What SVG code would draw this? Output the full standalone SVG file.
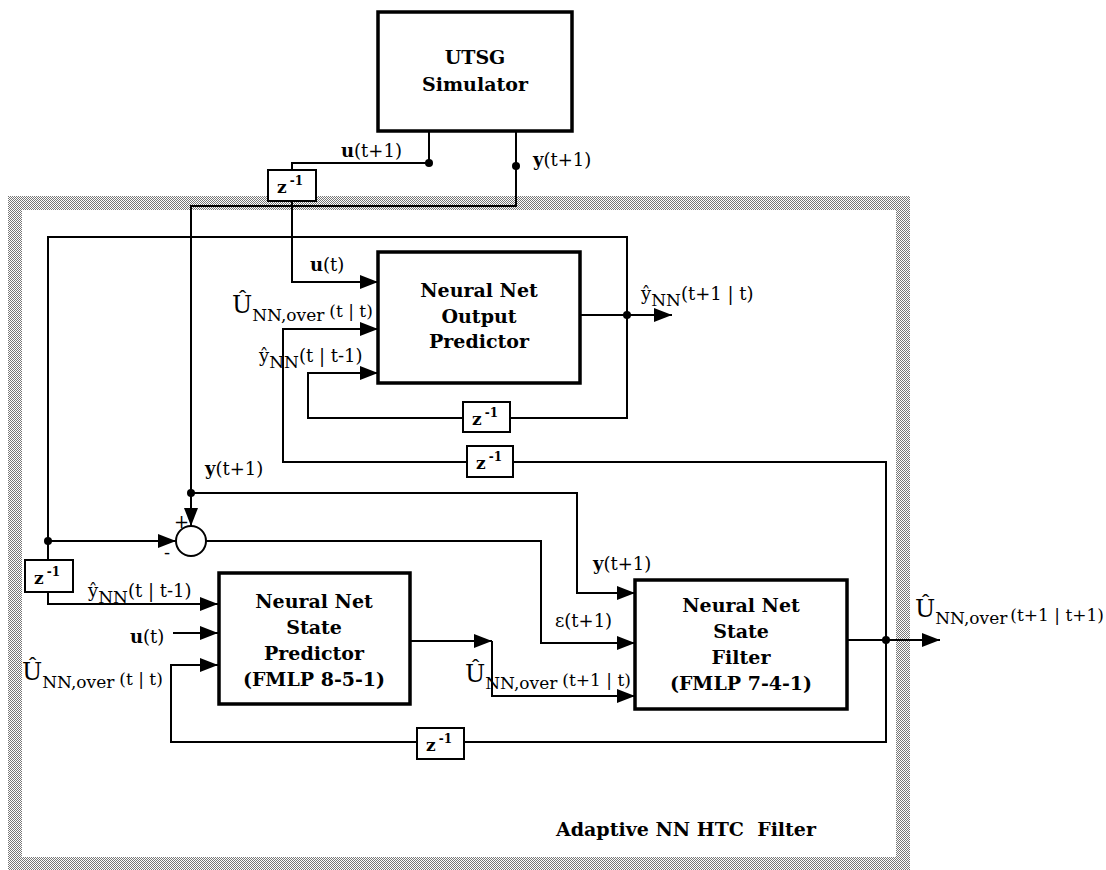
<svg xmlns="http://www.w3.org/2000/svg" width="1106" height="870" viewBox="0 0 1106 870">
<defs>
<pattern id="hatch" width="2" height="2" patternUnits="userSpaceOnUse">
<rect width="2" height="2" fill="#ffffff"/>
<rect width="1" height="1" fill="#777777"/>
<rect x="1" y="1" width="1" height="1" fill="#777777"/>
</pattern>
<marker id="arr" markerUnits="userSpaceOnUse" markerWidth="18" markerHeight="14" refX="18" refY="7" orient="auto">
<path d="M0,0 L18,7 L0,14 Z" fill="#000"/>
</marker>
</defs>
<style>
.box{fill:#fff;stroke:#000;stroke-width:3.5}
.zb{fill:#fff;stroke:#000;stroke-width:2}
.w{fill:none;stroke:#000;stroke-width:2}
.a{marker-end:url(#arr)}
.dot{fill:#000}
.bt{font-family:"DejaVu Serif","Liberation Serif",serif;font-weight:bold;font-size:19px;text-anchor:middle;fill:#000}
.zt{font-family:"DejaVu Serif","Liberation Serif",serif;font-weight:bold;font-size:17px;fill:#000}
.lb{font-family:"DejaVu Serif","Liberation Serif",serif;font-size:18px;fill:#000}
.b{font-weight:bold}
.big{font-size:24px}
.sub{font-size:17px}
</style>
<rect width="1106" height="870" fill="#fff"/>
<path id="frame" fill="url(#hatch)" fill-rule="evenodd" d="M8,196 H910 V870 H8 Z M22,210 H896 V857 H22 Z"/>

<g id="connectors">
<path class="w" d="M429,131 V163 H292 V170"/>
<path class="w a" d="M292,201 V282 H378"/>
<path class="w a" d="M516,131 V206 H191 V526"/>
<path class="w a" d="M191,493 H577 V593 H635"/>
<path class="w" d="M48,541 V237 H627 V418 H510"/>
<path class="w a" d="M463,418 H308 V373 H378"/>
<path class="w a" d="M580,315 H672"/>
<path class="w a" d="M48,541 H176"/>
<path class="w" d="M48,541 V560"/>
<path class="w a" d="M48,592 V604 H218"/>
<path class="w a" d="M206,541 H541 V643 H635"/>
<path class="w a" d="M410,641 H492"/>
<path class="w a" d="M492,641 V696 H635"/>
<path class="w a" d="M847,640 H940"/>
<path class="w" d="M886,640 V742 H464"/>
<path class="w a" d="M417,742 H171 V665 H218"/>
<path class="w" d="M886,640 V462 H513"/>
<path class="w a" d="M467,462 H283 V329 H378"/>
<path class="w a" d="M173,633 H218"/>
<circle class="dot" cx="429" cy="163" r="4"/>
<circle class="dot" cx="516" cy="166" r="4"/>
<circle class="dot" cx="191" cy="493" r="4"/>
<circle class="dot" cx="627" cy="315" r="4"/>
<circle class="dot" cx="48" cy="541" r="4"/>
<circle class="dot" cx="886" cy="640" r="4"/>
</g>

<g id="utsg">
<rect class="box" x="378" y="12" width="194" height="119"/>
<text class="bt" x="475" y="64">UTSG</text>
<text class="bt" x="475" y="91">Simulator</text>
</g>

<g id="output-predictor">
<rect class="box" x="378" y="252" width="202" height="131"/>
<text class="bt" x="479" y="297">Neural Net</text>
<text class="bt" x="479" y="323">Output</text>
<text class="bt" x="479" y="348">Predictor</text>
</g>

<g id="state-predictor">
<rect class="box" x="219" y="573" width="191" height="131"/>
<text class="bt" x="314" y="608">Neural Net</text>
<text class="bt" x="314" y="634">State</text>
<text class="bt" x="314" y="660">Predictor</text>
<text class="bt" x="314" y="686">(FMLP 8-5-1)</text>
</g>

<g id="state-filter">
<rect class="box" x="635" y="580" width="212" height="129"/>
<text class="bt" x="741" y="612">Neural Net</text>
<text class="bt" x="741" y="638">State</text>
<text class="bt" x="741" y="664">Filter</text>
<text class="bt" x="741" y="690">(FMLP 7-4-1)</text>
</g>

<g id="sum">
<circle cx="191" cy="541" r="15" fill="#fff" stroke="#000" stroke-width="2"/>
<text class="lb" x="174" y="528">+</text>
<text class="lb" x="164" y="559">-</text>
</g>

<g id="z1"><rect class="zb" x="268" y="170" width="48" height="31"/><text class="zt" x="277" y="193">z<tspan dx="3" dy="-8" font-size="12">-1</tspan></text></g>
<g id="z2"><rect class="zb" x="463" y="402" width="47" height="30"/><text class="zt" x="472" y="425">z<tspan dx="3" dy="-8" font-size="12">-1</tspan></text></g>
<g id="z3"><rect class="zb" x="467" y="446" width="46" height="31"/><text class="zt" x="476" y="469">z<tspan dx="3" dy="-8" font-size="12">-1</tspan></text></g>
<g id="z4"><rect class="zb" x="25" y="560" width="48" height="32"/><text class="zt" x="34" y="584">z<tspan dx="3" dy="-8" font-size="12">-1</tspan></text></g>
<g id="z5"><rect class="zb" x="417" y="728" width="47" height="31"/><text class="zt" x="426" y="751">z<tspan dx="3" dy="-8" font-size="12">-1</tspan></text></g>

<g id="labels">
<text class="lb" x="341" y="157"><tspan class="b">u</tspan>(t+1)</text>
<text class="lb" x="533" y="166"><tspan class="b">y</tspan>(t+1)</text>
<text class="lb" x="310" y="271"><tspan class="b">u</tspan>(t)</text>
<text class="lb" x="232" y="313"><tspan class="big">Û</tspan><tspan class="sub" dy="8">NN,over</tspan><tspan class="sub" dx="5" dy="-4">(t | t)</tspan></text>
<text class="lb" x="259" y="362">ŷ<tspan class="sub" dy="6">NN</tspan><tspan dy="-6">(t | t-1)</tspan></text>
<text class="lb" x="641" y="300">ŷ<tspan class="sub" dy="6">NN</tspan><tspan dy="-6">(t+1 | t)</tspan></text>
<text class="lb" x="205" y="475"><tspan class="b">y</tspan>(t+1)</text>
<text class="lb" x="88" y="597">ŷ<tspan class="sub" dy="6">NN</tspan><tspan dy="-6">(t | t-1)</tspan></text>
<text class="lb" x="130" y="643"><tspan class="b">u</tspan>(t)</text>
<text class="lb" x="22" y="680"><tspan class="big">Û</tspan><tspan class="sub" dy="8">NN,over</tspan><tspan class="sub" dx="5" dy="-3">(t | t)</tspan></text>
<text class="lb" x="593" y="570"><tspan class="b">y</tspan>(t+1)</text>
<text class="lb" x="555" y="627">ε(t+1)</text>
<text class="lb" x="465" y="682"><tspan class="big">Û</tspan><tspan class="sub" dy="7">NN,over</tspan><tspan class="sub" dx="5" dy="-3">(t+1 | t)</tspan></text>
<text class="lb" x="915" y="617"><tspan class="big">Û</tspan><tspan class="sub" dy="7">NN,over</tspan><tspan class="sub" dx="3" dy="-3">(t+1 | t+1)</tspan></text>
<text class="bt" x="686" y="836" xml:space="preserve">Adaptive NN HTC  Filter</text>
</g>
</svg>
